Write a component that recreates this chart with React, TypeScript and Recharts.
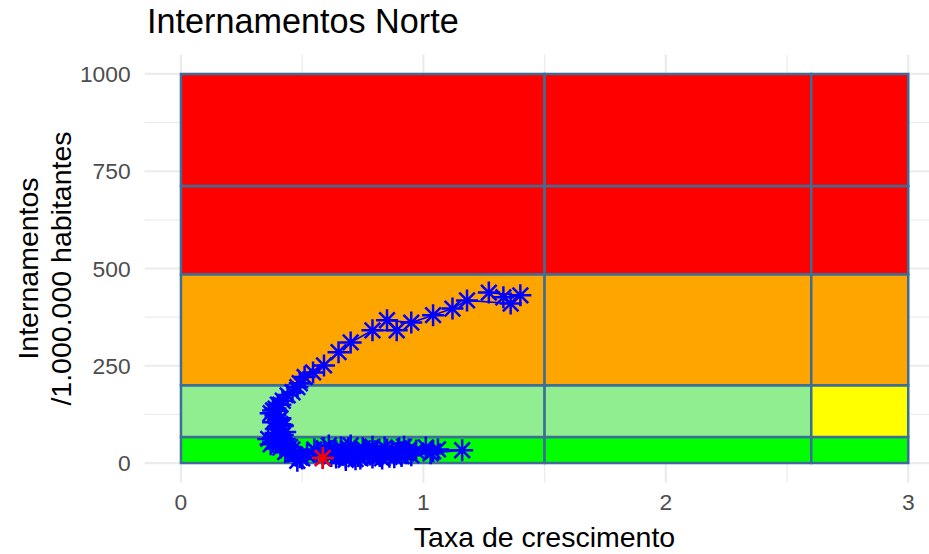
import React from "react";
import {
  ComposedChart,
  Scatter,
  XAxis,
  YAxis,
  ReferenceArea,
  CartesianGrid,
} from "recharts";

// ---- data ----
const growth = [
  1.27, 1.4, 1.33, 1.36, 1.18, 1.12, 1.04, 0.95, 0.85, 0.89, 0.79, 0.7, 0.65,
  0.59, 0.545, 0.51, 0.49, 0.48, 0.46, 0.44, 0.42, 0.41, 0.4, 0.39, 0.38, 0.37,
  0.39, 0.41, 0.38, 0.4, 0.42, 0.4, 0.43, 0.41, 0.39, 0.36, 0.42, 0.38, 0.4,
  0.37, 0.41, 0.44, 0.42, 0.46, 0.43, 0.45, 0.47, 0.44, 0.49, 0.5, 0.48, 0.52,
  0.55, 0.56, 0.59, 0.61, 0.64, 0.66, 0.63, 0.67, 0.68, 0.69, 0.72, 0.7, 0.73,
  0.75, 0.76, 0.78, 0.79, 0.74, 0.8, 0.81, 0.84, 0.83, 0.82, 0.85, 0.87, 0.89,
  0.9, 0.88, 0.91, 0.93, 0.94, 0.92, 0.97, 1.01, 1.04, 1.06, 1.16, 1.03, 0.95,
  0.86, 0.79, 0.77, 0.72, 0.71, 0.68, 0.66, 0.64, 0.62, 0.585,
];
const internamentos = [
  438, 431, 426, 410, 418, 397, 380, 361, 367, 341, 341, 310, 285, 251, 233,
  221, 205, 195, 182, 174, 160, 150, 150, 140, 135, 128, 122, 115, 105, 110,
  95, 88, 80, 100, 77, 62, 72, 55, 68, 48, 40, 44, 51, 35, 28, 41, 22, 33, 15,
  12, 6, 22, 35, 28, 38, 45, 30, 40, 25, 22, 15, 38, 30, 45, 18, 38, 32, 22,
  42, 12, 30, 24, 40, 12, 18, 34, 28, 26, 38, 15, 18, 25, 35, 42, 32, 40, 30,
  35, 33, 25, 20, 16, 14, 25, 10, 20, 8, 28, 14, 18, 13,
];
const lastGrowth = [0.585];
const lastInternamentos = [13];

const xBreaks = [0, 1.5, 2.6, 3];
const yBreaks = [0, 67, 200, 485, 712, 1000];
// colours per row (bottom -> top), per column (left -> right)
const zoneColors = [
  ["#00FF00", "#00FF00", "#00FF00"],
  ["#90EE90", "#90EE90", "#FFFF00"],
  ["#FFA500", "#FFA500", "#FFA500"],
  ["#FF0000", "#FF0000", "#FF0000"],
  ["#FF0000", "#FF0000", "#FF0000"],
];

const xTicks = [0, 1, 2, 3];
const xMinor = [0.5, 1.5, 2.5];
const yTicks = [0, 250, 500, 750, 1000];
const yMinor = [125, 375, 625, 875];

const title = "Internamentos Norte";
const xTitle = "Taxa de crescimento";
const yTitle1 = "Internamentos";
const yTitle2 = "/1.000.000 habitantes";

const points = growth.map((x, i) => ({ x, y: internamentos[i] }));
const lastPoints = lastGrowth.map((x, i) => ({ x, y: lastInternamentos[i] }));

const FONT = "'Liberation Sans', Arial, Helvetica, sans-serif";

const makeStar = (color: string) => (props: any) => {
  const { cx, cy } = props;
  if (cx == null || cy == null) return <g />;
  const r = 11;
  const d = 7.8;
  return (
    <g stroke={color} strokeWidth={2.5} strokeLinecap="butt">
      <line x1={cx - r} y1={cy} x2={cx + r} y2={cy} />
      <line x1={cx} y1={cy - r} x2={cx} y2={cy + r} />
      <line x1={cx - d} y1={cy - d} x2={cx + d} y2={cy + d} />
      <line x1={cx - d} y1={cy + d} x2={cx + d} y2={cy - d} />
    </g>
  );
};

const BlueStar = makeStar("#0000FF");
const RedStar = makeStar("#FF0000");

export default function App() {
  const areas: React.ReactNode[] = [];
  for (let r = 0; r < yBreaks.length - 1; r++) {
    for (let c = 0; c < xBreaks.length - 1; c++) {
      areas.push(
        <ReferenceArea
          key={`a-${r}-${c}`}
          x1={xBreaks[c]}
          x2={xBreaks[c + 1]}
          y1={yBreaks[r]}
          y2={yBreaks[r + 1]}
          fill={zoneColors[r][c]}
          fillOpacity={1}
          stroke="#3D6E96"
          strokeWidth={2.5}
          ifOverflow="visible"
        />
      );
    }
  }

  return (
    <div
      style={{
        position: "absolute",
        left: 0,
        top: 0,
        width: 929,
        height: 554,
        overflow: "hidden",
        background: "#FFFFFF",
      }}
    >
      <ComposedChart
        width={960}
        height={554}
        data={points}
        margin={{ top: 54.5, right: 15.4, bottom: 31.5, left: 0 }}
      >
        <CartesianGrid
          horizontalValues={yMinor}
          verticalValues={xMinor}
          stroke="#EBEBEB"
          strokeWidth={1.2}
          strokeDasharray=""
        />
        <CartesianGrid
          horizontalValues={yTicks}
          verticalValues={xTicks}
          stroke="#EBEBEB"
          strokeWidth={2.2}
          strokeDasharray=""
        />
        <XAxis
          type="number"
          dataKey="x"
          domain={[-0.15, 3.15]}
          ticks={xTicks}
          allowDataOverflow
          axisLine={false}
          tickLine={false}
          tickSize={0}
          tickMargin={11.5}
          height={40}
          tick={{ fill: "#4D4D4D", fontSize: 22.8, fontFamily: FONT }}
        />
        <YAxis
          type="number"
          dataKey="y"
          domain={[-50, 1050]}
          ticks={yTicks}
          allowDataOverflow
          axisLine={false}
          tickLine={false}
          tickSize={0}
          tickMargin={14}
          width={144.6}
          tick={{ fill: "#4D4D4D", fontSize: 22.8, fontFamily: FONT }}
        />
        {areas}
        <Scatter
          data={points}
          dataKey="y"
          shape={BlueStar}
          line={{ stroke: "#0000FF", strokeWidth: 1.6 }}
          lineType="joint"
          isAnimationActive={false}
        />
        <Scatter
          data={lastPoints}
          dataKey="y"
          shape={RedStar}
          isAnimationActive={false}
        />
      </ComposedChart>
      <svg
        width={929}
        height={554}
        style={{ position: "absolute", left: 0, top: 0, pointerEvents: "none" }}
      >
        <text x={147} y={33} fontSize={34.2} fontFamily={FONT} fill="#000000">
          {title}
        </text>
        <text
          x={544.5}
          y={547}
          fontSize={28.5}
          fontFamily={FONT}
          fill="#000000"
          textAnchor="middle"
        >
          {xTitle}
        </text>
        <text
          transform="translate(38,268.5) rotate(-90)"
          fontSize={28.5}
          fontFamily={FONT}
          fill="#000000"
          textAnchor="middle"
        >
          {yTitle1}
        </text>
        <text
          transform="translate(71,268.5) rotate(-90)"
          fontSize={28.5}
          fontFamily={FONT}
          fill="#000000"
          textAnchor="middle"
        >
          {yTitle2}
        </text>
      </svg>
    </div>
  );
}
